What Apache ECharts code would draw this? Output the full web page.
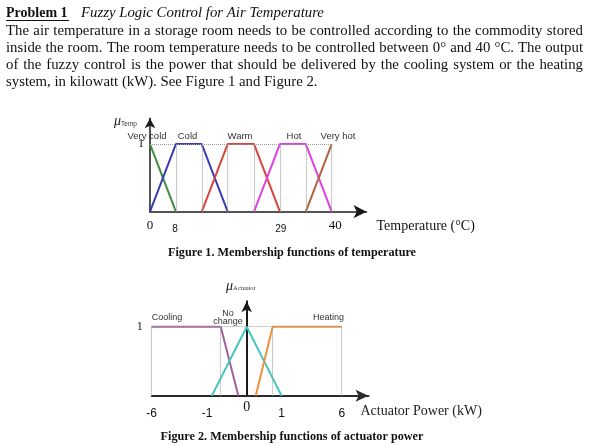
<!DOCTYPE html>
<html><head><meta charset="utf-8">
<script src="https://cdn.jsdelivr.net/npm/echarts@6/dist/echarts.min.js"></script>
<style>html,body{margin:0;padding:0;background:#fff}#c{width:601px;height:446px}</style>
</head><body><div id="c"></div>
<script>
// ---------- Text ----------
const problemLabel = 'Problem 1';
const problemTitle = 'Fuzzy Logic Control for Air Temperature';
const paragraphLines = [
  'The air temperature in a storage room needs to be controlled according to the commodity stored',
  'inside the room. The room temperature needs to be controlled between 0° and 40 °C. The output',
  'of the fuzzy control is the power that should be delivered by the cooling system or the heating',
  'system, in kilowatt (kW). See Figure 1 and Figure 2.'
];
const caption1 = 'Figure 1. Membership functions of temperature';
const caption2 = 'Figure 2. Membership functions of actuator power';

// ---------- Figure 1: temperature ----------
const tempNames = ['Very cold', 'Cold', 'Warm', 'Hot', 'Very hot'];
const veryColdX = [0, 5.7];
const veryColdY = [1, 0];
const coldX = [0, 5.7, 11.4, 17.1];
const coldY = [0, 1, 1, 0];
const warmX = [11.4, 17.1, 22.9, 28.6];
const warmY = [0, 1, 1, 0];
const hotX = [22.9, 28.6, 34.3, 40];
const hotY = [0, 1, 1, 0];
const veryHotX = [34.3, 40];
const veryHotY = [0, 1];
const tempGuideX = [5.7, 11.4, 17.1, 22.9, 28.6, 34.3, 40];
const tempTickValues = [0, 5.5, 28.8, 40];
const tempTickLabels = ['0', '8', '29', '40'];
const tempAxisName = 'Temperature (°C)';

// ---------- Figure 2: actuator power ----------
const powerNames = ['Cooling', 'No\nchange', 'Heating'];
const coolingX = [-6, -1.64, -0.53];
const coolingY = [1, 1, 0];
const noChangeX = [-2.2, 0, 2.2];
const noChangeY = [0, 1, 0];
const heatingX = [0.57, 1.64, 6];
const heatingY = [0, 1, 1];
const powerGuideX = [-6, -1.64, 1.64, 6];
const powerTickValues = [-6, -2.5, 0, 2.2, 6];
const powerTickLabels = ['-6', '-1', '0', '1', '6'];
const powerAxisName = 'Actuator Power (kW)';

// ---------- helpers ----------
const SERIF = '"Liberation Serif", "Times New Roman", serif';
const SANS = '"Liberation Sans", Arial, sans-serif';
const pairs = (xs, ys) => xs.map((x, i) => [x, ys[i]]);
const labelFor = (vals, labs) => v => {
  let best = 0;
  vals.forEach((t, i) => { if (Math.abs(t - v) < Math.abs(vals[best] - v)) best = i; });
  return labs[best];
};

const mctx = document.createElement('canvas').getContext('2d');
function textLine(text, x0, x1, y, justify, size) {
  mctx.font = size + 'px ' + SERIF;
  const words = text.split(' ');
  const widths = words.map(w => mctx.measureText(w).width);
  const total = widths.reduce((a, b) => a + b, 0);
  const gap = justify ? (x1 - x0 - total) / (words.length - 1) : mctx.measureText(' ').width;
  const out = [];
  let x = x0;
  words.forEach((w, i) => {
    out.push({type: 'text', x: x, y: y, silent: true,
      style: {text: w, fontSize: size, fontFamily: SERIF, fill: '#111', verticalAlign: 'middle'}});
    x += widths[i] + gap;
  });
  return out;
}

const chart = echarts.init(document.getElementById('c'), null, {renderer: 'canvas'});

const tempColors = ['#3d8f3f', '#3a3cb8', '#d8443e', '#e040dc', '#b0623e'];
const tempData = [pairs(veryColdX, veryColdY), pairs(coldX, coldY), pairs(warmX, warmY), pairs(hotX, hotY), pairs(veryHotX, veryHotY)];
const powerColors = ['#a4609c', '#48c6c0', '#f0913e'];
const powerData = [pairs(coolingX, coolingY), pairs(noChangeX, noChangeY), pairs(heatingX, heatingY)];

const guideStyle = {type: 'dotted', color: '#9a9a9a', width: 1};
function guideSeries(xi, yi, xs, hFrom, hTo) {
  const d = xs.map(x => [{coord: [x, 0]}, {coord: [x, 1]}]);
  d.push([{coord: [hFrom, 1]}, {coord: [hTo, 1]}]);
  return {type: 'line', xAxisIndex: xi, yAxisIndex: yi, data: [], z: 1, silent: true,
    markLine: {symbol: ['none', 'none'], silent: true, label: {show: false}, lineStyle: guideStyle,
      emphasis: {disabled: true}, data: d, animation: false}};
}

const series = [];
series.push(guideSeries(0, 0, tempGuideX, 0, 40));
series.push(guideSeries(1, 1, powerGuideX, -6, 6));
tempNames.forEach((n, i) => series.push({
  type: 'line', name: n, xAxisIndex: 0, yAxisIndex: 0, data: tempData[i], symbol: 'none', z: 3,
  lineStyle: {color: tempColors[i], width: 2}, itemStyle: {color: tempColors[i]}, silent: true
}));
powerNames.forEach((n, i) => series.push({
  type: 'line', name: n, xAxisIndex: 1, yAxisIndex: 1, data: powerData[i], symbol: 'none', z: 3,
  lineStyle: {color: powerColors[i], width: 2}, itemStyle: {color: powerColors[i]}, silent: true
}));

// graphics (text)
const graphics = [];
graphics.push({type: 'text', x: 6, y: 13.5, silent: true,
  style: {text: problemLabel, fontSize: 14, fontWeight: 'bold', fontFamily: SERIF, fill: '#111', verticalAlign: 'middle'}});
graphics.push({type: 'line', silent: true, shape: {x1: 6, y1: 20.5, x2: 69, y2: 20.5}, style: {stroke: '#111', lineWidth: 1}});
graphics.push({type: 'text', x: 81, y: 13.5, silent: true,
  style: {text: problemTitle, fontSize: 14.8, fontStyle: 'italic', fontFamily: SERIF, fill: '#111', verticalAlign: 'middle'}});
paragraphLines.forEach((l, i) => {
  textLine(l, 6, 583, 31.5 + 16.9 * i, i < paragraphLines.length - 1, 14.8).forEach(g => graphics.push(g));
});
// mu labels
graphics.push({type: 'text', x: 114, y: 121, silent: true, style: {
  text: '{m|μ}{s|Temp}', verticalAlign: 'middle',
  rich: {m: {fontSize: 14, fontStyle: 'italic', fontFamily: SERIF, fill: '#222'},
         s: {fontSize: 6.5, fontFamily: SANS, fill: '#333', padding: [6, 0, 0, 0]}}}});
graphics.push({type: 'text', x: 226, y: 286, silent: true, style: {
  text: '{m|μ}{s|Actuator}', verticalAlign: 'middle',
  rich: {m: {fontSize: 14, fontStyle: 'italic', fontFamily: SERIF, fill: '#222'},
         s: {fontSize: 6.5, fontFamily: SERIF, fill: '#333', padding: [4, 0, 0, 0]}}}});
// series name labels
const tempLabelX = [147, 187.5, 240, 294, 338];
tempNames.forEach((n, i) => graphics.push({type: 'text', x: tempLabelX[i], y: 136.5, silent: true,
  style: {text: n, fontSize: 9.5, fontFamily: SANS, fill: '#333', align: 'center', verticalAlign: 'middle'}}));
const powerLabelPos = [[167, 317.7], [228, 317.5], [328.5, 317.7]];
powerNames.forEach((n, i) => graphics.push({type: 'text', x: powerLabelPos[i][0], y: powerLabelPos[i][1], silent: true,
  style: {text: n, fontSize: 9, lineHeight: 8.7, fontFamily: SANS, fill: '#333', align: 'center', verticalAlign: 'middle'}}));
// captions
graphics.push({type: 'text', x: 292, y: 253, silent: true,
  style: {text: caption1, fontSize: 12.2, fontWeight: 'bold', fontFamily: SERIF, fill: '#111', align: 'center', verticalAlign: 'middle'}});
graphics.push({type: 'text', x: 292, y: 437, silent: true,
  style: {text: caption2, fontSize: 12.2, fontWeight: 'bold', fontFamily: SERIF, fill: '#111', align: 'center', verticalAlign: 'middle'}});

const axisBase = {splitLine: {show: false}, axisTick: {show: false}};

chart.setOption({
  animation: false,
  backgroundColor: '#fff',
  grid: [
    {left: 150, right: 234.5, top: 118.3, bottom: 234.3, containLabel: false},
    {left: 151.7, right: 232.5, top: 301.2, bottom: 50.3, containLabel: false}
  ],
  xAxis: [
    Object.assign({}, axisBase, {
      type: 'value', gridIndex: 0, min: 0, max: 47.66,
      axisLine: {show: true, onZero: true, symbol: ['none', 'arrow'], symbolSize: [10, 13],
        lineStyle: {color: '#1a1a1a', width: 1.5}},
      axisLabel: {customValues: tempTickValues, margin: 7.3, formatter: v => {
          const t = labelFor(tempTickValues, tempTickLabels)(v);
          return t === '0' ? '{s|0}' : t === '40' ? '{r|40}' : '{a|' + t + '}';
        },
        rich: {s: {fontFamily: SERIF, fontSize: 13, lineHeight: 13, color: '#111'},
               r: {fontFamily: SERIF, fontSize: 13, lineHeight: 13, color: '#111', padding: [0, 0, 0, 7]},
               a: {fontFamily: SANS, fontSize: 10, lineHeight: 20, color: '#111'}}},
      name: '{n|' + tempAxisName + '}', nameLocation: 'end', nameGap: 10,
      nameTextStyle: {align: 'left', verticalAlign: 'top',
        rich: {n: {fontFamily: SERIF, fontSize: 14, color: '#111', lineHeight: 30}}}
    }),
    Object.assign({}, axisBase, {
      type: 'value', gridIndex: 1, min: -6, max: 7.69,
      axisLine: {show: true, onZero: true, symbol: ['none', 'arrow'], symbolSize: [9, 13],
        lineStyle: {color: '#2a2a2a', width: 2}},
      axisLabel: {customValues: powerTickValues, margin: 4.8, formatter: v => {
          const t = labelFor(powerTickValues, powerTickLabels)(v);
          return t === '0' ? '{s|0}' : '{a|' + t + '}';
        },
        rich: {s: {fontFamily: SERIF, fontSize: 14, lineHeight: 14, color: '#111'},
               a: {fontFamily: SANS, fontSize: 12, lineHeight: 26, color: '#111'}}},
      name: '{n|' + powerAxisName + '}', nameLocation: 'end', nameGap: -8,
      nameTextStyle: {align: 'left', verticalAlign: 'top',
        rich: {n: {fontFamily: SERIF, fontSize: 14, color: '#222', lineHeight: 32}}}
    })
  ],
  yAxis: [
    Object.assign({}, axisBase, {
      type: 'value', gridIndex: 0, min: 0, max: 1.38,
      axisLine: {show: true, onZero: true, symbol: ['none', 'arrow'], symbolSize: [8, 10],
        lineStyle: {color: '#1a1a1a', width: 1.5}},
      axisLabel: {customValues: [1], margin: 6, fontFamily: SERIF, fontSize: 12, color: '#111', formatter: () => '1'}
    }),
    Object.assign({}, axisBase, {
      type: 'value', gridIndex: 1, min: 0, max: 1.37,
      axisLine: {show: true, onZero: true, symbol: ['none', 'arrow'], symbolSize: [8, 11],
        lineStyle: {color: '#1a1a1a', width: 2}},
      axisLabel: {show: false}
    }),
    Object.assign({}, axisBase, {
      type: 'value', gridIndex: 1, min: 0, max: 1.37, position: 'left',
      axisLine: {show: false, onZero: false},
      axisLabel: {customValues: [1], margin: 9, fontFamily: SERIF, fontSize: 12, color: '#111', formatter: () => '1'}
    })
  ],
  series: series,
  graphic: graphics
});
</script>
</body></html>
